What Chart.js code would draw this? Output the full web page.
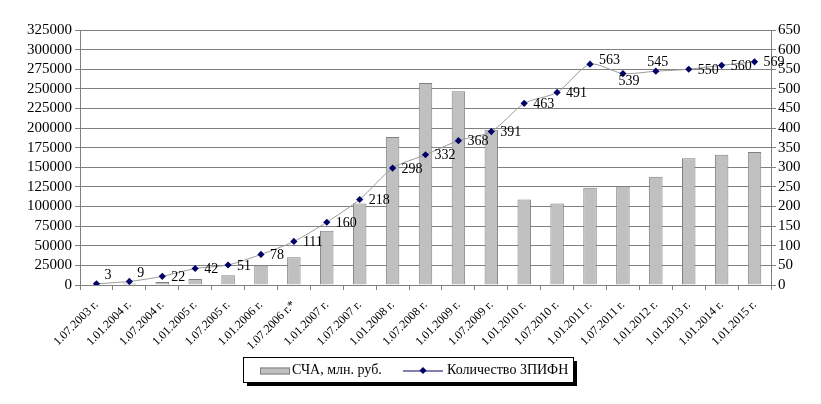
<!DOCTYPE html>
<html>
<head>
<meta charset="utf-8">
<script src="https://cdn.jsdelivr.net/npm/chart.js@4.4.0/dist/chart.umd.min.js"></script>
<style>
  html, body { margin: 0; padding: 0; background: #fff; }
  #wrap { width: 821px; height: 404px; position: relative; }
</style>
</head>
<body>
<div id="wrap"><canvas id="chart"></canvas></div>
<script>
// categories
var dates = ['1.07.2003 г.', '1.01.2004 г.', '1.07.2004 г.', '1.01.2005 г.', '1.07.2005 г.',
  '1.01.2006 г.', '1.07.2006 г.*', '1.01.2007 г.', '1.07.2007 г.', '1.01.2008 г.',
  '1.07.2008 г.', '1.01.2009 г.', '1.07.2009 г.', '1.01.2010 г.', '1.07.2010 г.',
  '1.01.2011 г.', '1.07.2011 г.', '1.01.2012 г.', '1.01.2013 г.', '1.01.2014 г.', '1.01.2015 г.'];
// СЧА, млн. руб. (left axis)
var scha = [600, 2000, 3800, 7700, 12300, 24700, 35300, 69000, 104000, 188500,
  257500, 247000, 198000, 109000, 104000, 124000, 125500, 138000, 161700, 166000, 169400];
// Количество ЗПИФН (right axis)
var zpifn = [3, 9, 22, 42, 51, 78, 111, 160, 218, 298, 332, 368, 391, 463, 491, 563, 539, 545, 550, 560, 569];
// axis ranges
var leftMax = 325000, leftStep = 25000;
var rightMax = 650, rightStep = 50;
// where each value label sits relative to its point
var labelPos = ['ur', 'ur', 'r', 'r', 'r', 'r', 'r', 'r', 'r', 'r', 'r', 'r', 'r', 'r', 'r',
  'ru', 'd', 'u', 'r', 'r', 'r'];

var serif = '"Liberation Serif", "DejaVu Serif", serif';

var valueLabels = {
  id: 'valueLabels',
  afterDatasetsDraw: function (chart) {
    var ctx = chart.ctx;
    var meta = chart.getDatasetMeta(1);
    ctx.save();
    ctx.font = '14px ' + serif;
    ctx.fillStyle = '#000';
    meta.data.forEach(function (pt, i) {
      var p = labelPos[i], x = pt.x, y = pt.y;
      ctx.textBaseline = 'middle';
      ctx.textAlign = 'left';
      if (p === 'r') { x += 9; y += 1; }
      else if (p === 'ur') { x += 8; y -= 8; }
      else if (p === 'ru') { x += 9; y -= 4; }
      else if (p === 'd') { ctx.textAlign = 'center'; x += 6; y += 8; }
      else if (p === 'u') { ctx.textAlign = 'center'; x += 2; y -= 9; }
      ctx.fillText(String(zpifn[i]), x, y);
    });
    ctx.restore();
  }
};

var boxLegend = {
  id: 'boxLegend',
  afterDraw: function (chart) {
    var ctx = chart.ctx;
    var bx = 243, by = 357, bw = 330, bh = 25;
    ctx.save();
    ctx.fillStyle = '#000';
    ctx.fillRect(bx + 4, by + 4, bw, bh);
    ctx.fillStyle = '#fff';
    ctx.fillRect(bx, by, bw, bh);
    ctx.strokeStyle = '#000';
    ctx.lineWidth = 1;
    ctx.strokeRect(bx + 0.5, by + 0.5, bw, bh);
    var cy = by + bh / 2 + 1;
    ctx.fillStyle = '#c0c0c0';
    ctx.fillRect(260, cy - 3, 30, 7);
    ctx.strokeStyle = '#808080';
    ctx.strokeRect(260.5, cy - 2.5, 29, 6);
    ctx.font = '14px ' + serif;
    ctx.fillStyle = '#000';
    ctx.textBaseline = 'middle';
    ctx.textAlign = 'left';
    ctx.fillText(chart.data.datasets[0].label, 292, cy);
    ctx.strokeStyle = '#000066';
    ctx.beginPath();
    ctx.moveTo(403, cy + 0.5);
    ctx.lineTo(443, cy + 0.5);
    ctx.stroke();
    ctx.fillStyle = '#000066';
    ctx.beginPath();
    ctx.moveTo(423, cy - 3.5); ctx.lineTo(426.5, cy); ctx.lineTo(423, cy + 3.5); ctx.lineTo(419.5, cy);
    ctx.closePath();
    ctx.fill();
    ctx.fillStyle = '#000';
    ctx.fillText(chart.data.datasets[1].label, 447, cy);
    ctx.restore();
  }
};

new Chart(document.getElementById('chart').getContext('2d'), {
  type: 'bar',
  data: {
    labels: dates,
    datasets: [{
      type: 'bar', label: 'СЧА, млн. руб.', data: scha, yAxisID: 'y', order: 1,
      backgroundColor: '#c0c0c0', borderColor: '#808080', borderWidth: 1,
      categoryPercentage: 1, barPercentage: 0.41
    }, {
      type: 'line', label: 'Количество ЗПИФН', data: zpifn, yAxisID: 'y1', order: 0,
      borderColor: '#9a9a9a', borderWidth: 1, tension: 0.25,
      pointStyle: 'rectRot', pointRadius: 3.6, pointBackgroundColor: '#000066',
      pointBorderColor: '#000066', pointBorderWidth: 0
    }]
  },
  options: {
    responsive: true, maintainAspectRatio: false, animation: false,
    layout: { padding: { top: 30, left: 0, right: 0, bottom: 0 } },
    plugins: { legend: { display: false }, tooltip: { enabled: false } },
    scales: {
      x: {
        offset: true,
        grid: { offset: true, drawOnChartArea: false, drawTicks: true, tickLength: 5, color: '#808080' },
        border: { color: '#808080' },
        ticks: { minRotation: 45, maxRotation: 45, autoSkip: false, color: '#000', padding: 8,
          font: { family: serif, size: 12 } },
        afterFit: function (s) { s.height = 119; }
      },
      y: {
        position: 'left', min: 0, max: leftMax,
        grid: { color: '#808080', tickLength: 5 },
        border: { color: '#808080' },
        ticks: { stepSize: leftStep, autoSkip: false, color: '#000', padding: 3, font: { family: serif, size: 15 },
          callback: function (v) { return String(v); } },
        afterFit: function (s) { s.width = 80; }
      },
      y1: {
        position: 'right', min: 0, max: rightMax,
        grid: { drawOnChartArea: false, color: '#808080', tickLength: 5 },
        border: { color: '#808080' },
        ticks: { stepSize: rightStep, autoSkip: false, color: '#000', padding: 2, font: { family: serif, size: 15 },
          callback: function (v) { return String(v); } },
        afterFit: function (s) { s.width = 50; }
      }
    }
  },
  plugins: [valueLabels, boxLegend]
});
</script>
</body>
</html>
